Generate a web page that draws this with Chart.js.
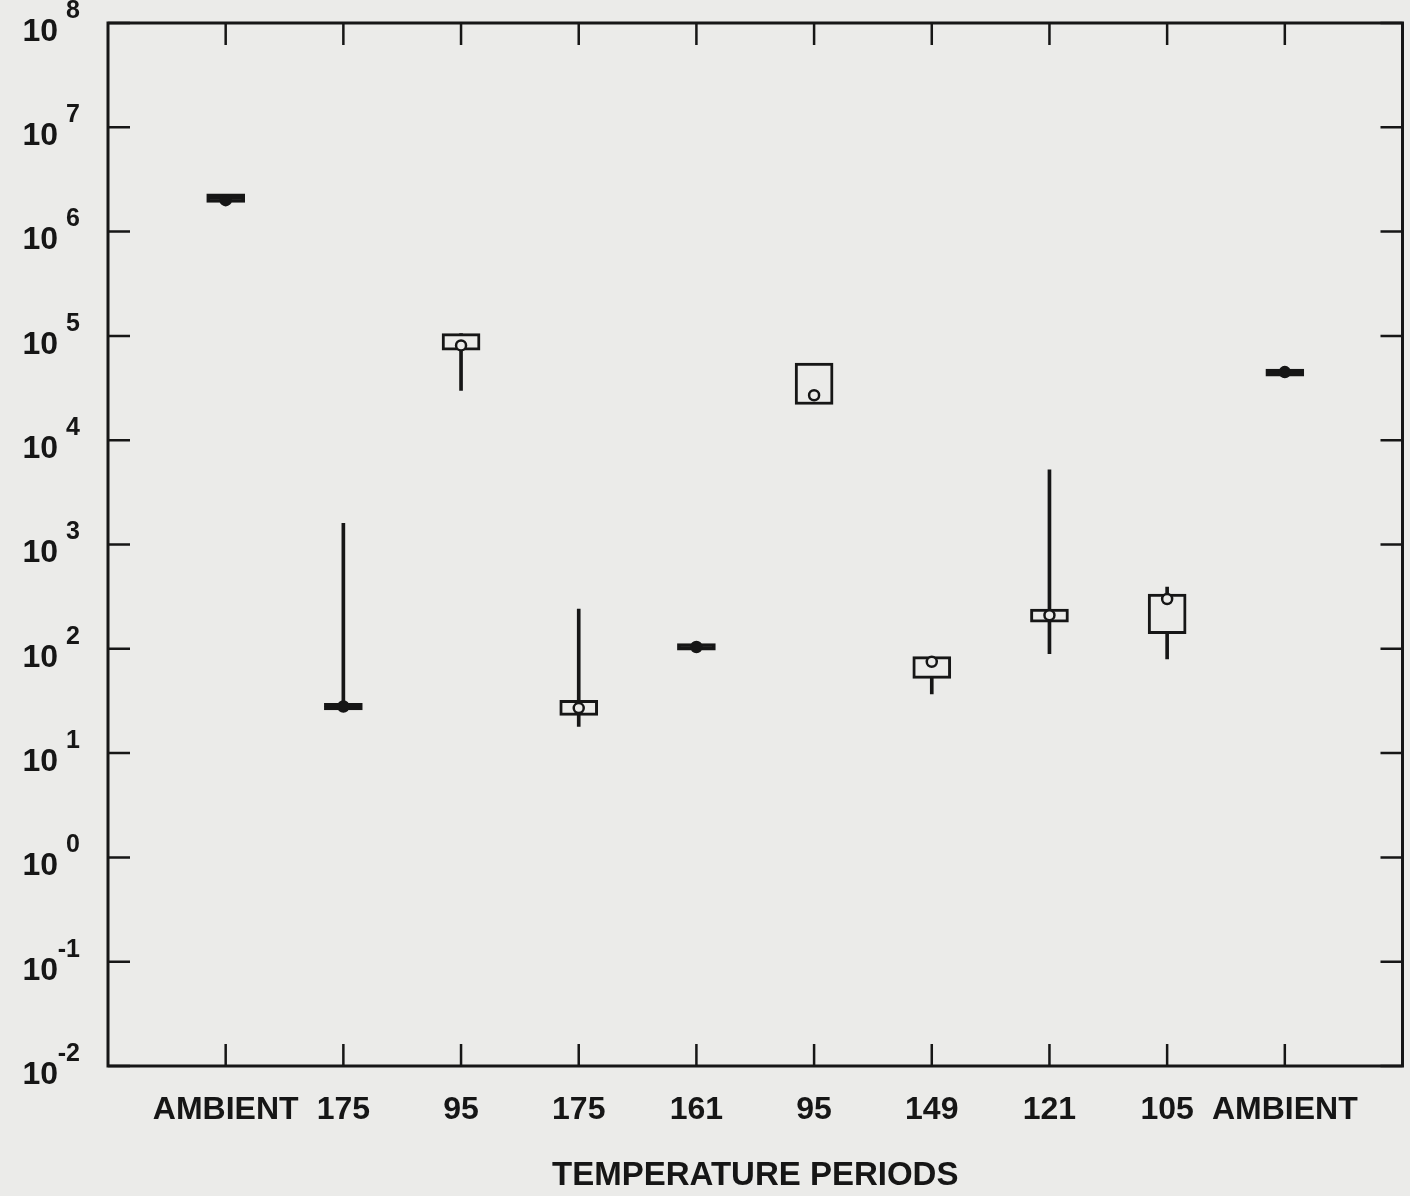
<!DOCTYPE html>
<html>
<head>
<meta charset="utf-8">
<script src="https://cdn.jsdelivr.net/npm/chart.js@4.4.1/dist/chart.umd.min.js"></script>
<style>
  html, body { margin: 0; padding: 0; background: #ebebe9; }
  canvas { display: block; }
</style>
</head>
<body>
<canvas id="chart" width="1410" height="1196"></canvas>
<script>
const periods = ['AMBIENT', '175', '95', '175', '161', '95', '149', '121', '105', 'AMBIENT'];
const whiskerLow = [null, 28, 3.0e4, 18, null, null, 37, 90, 80, null];
const boxLow = [1.9e6, 26, 7.3e4, 23, 97, 2.2e4, 52, 180, 140, 4.1e4];
const median = [2.0e6, 28, 8.1e4, 27, 104, 2.7e4, 75, 210, 300, 4.5e4];
const boxHigh = [2.3e6, 30, 1.05e5, 32, 112, 5.5e4, 84, 240, 335, 4.8e4];
const whiskerHigh = [null, 1.6e3, 1.05e5, 240, null, null, 84, 5.2e3, 390, null];
const exponents = [-2, -1, 0, 1, 2, 3, 4, 5, 6, 7, 8];

const INK = '#161616';
const PAPER = '#ebebe9';
const TICK = 22;
const FONT = '"Liberation Sans", Arial, sans-serif';

const ctx = document.getElementById('chart').getContext('2d');

const boxes = periods.map((p, i) => ({ x: i + 1, y: [boxLow[i], boxHigh[i]] }));
const whiskers = periods
  .map((p, i) => ({ x: i + 1, y: [whiskerLow[i], whiskerHigh[i]] }))
  .filter(d => d.y[0] !== null);
const medians = periods.map((p, i) => ({ x: i + 1, y: median[i] }));

// flat boxes (min and max almost equal) are drawn as a solid dash
function isFlat(i) {
  return boxHigh[i] / boxLow[i] < 1.3;
}

const frame = {
  id: 'frame',
  afterDatasetsDraw(chart) {
    const { ctx, chartArea: a, scales: { x, y } } = chart;
    ctx.save();
    ctx.strokeStyle = INK;
    ctx.lineWidth = 3;
    ctx.strokeRect(a.left, a.top, a.right - a.left, a.bottom - a.top);

    ctx.lineWidth = 2.5;
    ctx.beginPath();
    x.ticks.forEach(t => {
      const px = x.getPixelForValue(t.value);
      ctx.moveTo(px, a.top);
      ctx.lineTo(px, a.top + TICK);
      ctx.moveTo(px, a.bottom);
      ctx.lineTo(px, a.bottom - TICK);
    });
    y.ticks.forEach(t => {
      const py = y.getPixelForValue(t.value);
      ctx.moveTo(a.left, py);
      ctx.lineTo(a.left + TICK, py);
      ctx.moveTo(a.right, py);
      ctx.lineTo(a.right - TICK, py);
    });
    ctx.stroke();

    // "10" with a raised exponent for each decade
    ctx.fillStyle = INK;
    ctx.textBaseline = 'middle';
    exponents.forEach(e => {
      const py = y.getPixelForValue(Math.pow(10, e));
      ctx.font = 'bold 32px ' + FONT;
      ctx.textAlign = 'right';
      ctx.fillText('10', 58, py + 9);
      ctx.font = 'bold 25px ' + FONT;
      ctx.fillText(String(e), 80, py - 12);
    });
    ctx.restore();
  }
};

new Chart(ctx, {
  type: 'bar',
  data: {
    datasets: [
      {
        label: 'median',
        type: 'line',
        data: medians,
        showLine: false,
        order: 0,
        pointRadius: 5,
        pointBorderWidth: 2.5,
        pointBorderColor: INK,
        pointBackgroundColor: c => (isFlat(c.dataIndex) ? INK : PAPER)
      },
      {
        label: 'box',
        data: boxes,
        order: 1,
        grouped: false,
        barThickness: 38,
        backgroundColor: c => (isFlat(c.dataIndex) ? INK : PAPER),
        borderColor: INK,
        borderWidth: 3,
        borderSkipped: false
      },
      {
        label: 'range',
        data: whiskers,
        order: 2,
        grouped: false,
        barThickness: 3,
        backgroundColor: INK,
        borderWidth: 0
      }
    ]
  },
  options: {
    responsive: false,
    animation: false,
    layout: { padding: { top: 23, right: 2, left: 0, bottom: 0 } },
    plugins: {
      legend: { display: false },
      tooltip: { enabled: false }
    },
    scales: {
      x: {
        type: 'linear',
        min: 0,
        max: 11,
        offset: false,
        grid: { display: false, offset: false },
        border: { display: false },
        afterBuildTicks: s => {
          s.ticks = periods.map((p, i) => ({ value: i + 1 }));
        },
        afterFit: s => {
          s.height = 130;
        },
        ticks: {
          autoSkip: false,
          maxRotation: 0,
          padding: 17,
          color: INK,
          font: { family: FONT, size: 32, weight: 'bold' },
          callback: v => periods[v - 1]
        },
        title: {
          display: true,
          text: 'TEMPERATURE PERIODS',
          color: INK,
          font: { family: FONT, size: 33, weight: 'bold' },
          padding: { top: 0, bottom: 0 }
        }
      },
      y: {
        type: 'logarithmic',
        min: 0.01,
        max: 1e8,
        grid: { display: false },
        border: { display: false },
        ticks: { display: false },
        afterBuildTicks: s => {
          s.ticks = exponents.map(e => ({ value: Math.pow(10, e) }));
        },
        afterFit: s => {
          s.width = 108;
        }
      }
    }
  },
  plugins: [frame]
});
</script>
</body>
</html>
